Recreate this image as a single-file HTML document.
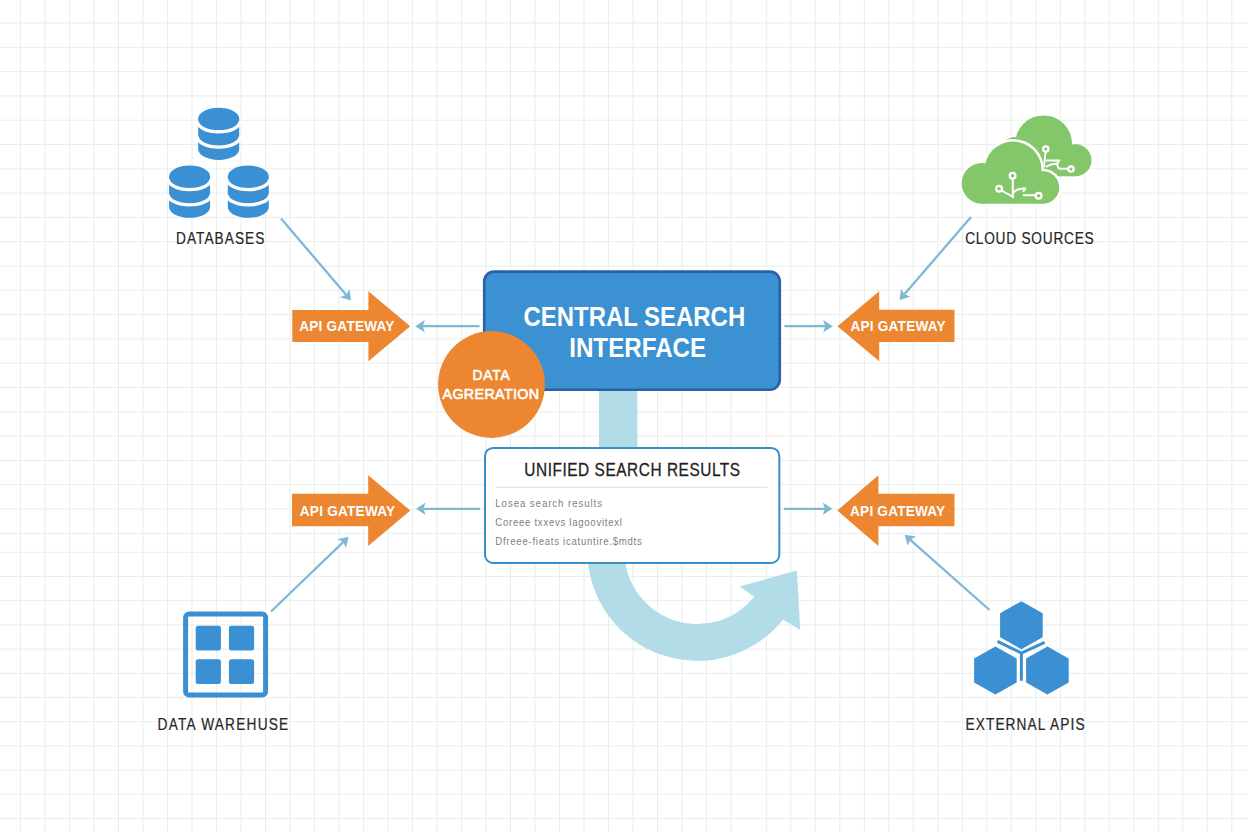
<!DOCTYPE html>
<html><head><meta charset="utf-8"><style>
html,body{margin:0;padding:0;background:#fff;}
svg{display:block;font-family:"Liberation Sans",sans-serif;}
</style></head><body>
<svg width="1248" height="832" viewBox="0 0 1248 832">
<rect width="1248" height="832" fill="#ffffff"/>
<path d="M20.5 0V832M45.0 0V832M69.5 0V832M94.0 0V832M118.5 0V832M143.0 0V832M167.5 0V832M192.0 0V832M216.5 0V832M241.0 0V832M265.5 0V832M290.0 0V832M314.5 0V832M339.0 0V832M363.5 0V832M388.0 0V832M412.5 0V832M437.0 0V832M461.5 0V832M486.0 0V832M510.5 0V832M535.0 0V832M559.5 0V832M584.0 0V832M608.5 0V832M633.0 0V832M657.5 0V832M682.0 0V832M706.5 0V832M731.0 0V832M766.3 0V832M790.8 0V832M815.3 0V832M839.8 0V832M864.3 0V832M888.8 0V832M913.3 0V832M937.8 0V832M962.3 0V832M986.8 0V832M1011.3 0V832M1035.8 0V832M1060.3 0V832M1084.8 0V832M1109.3 0V832M1133.8 0V832M1158.3 0V832M1182.8 0V832M1207.3 0V832M1231.8 0V832M0 23.0H1248M0 47.3H1248M0 71.6H1248M0 95.9H1248M0 120.2H1248M0 144.5H1248M0 168.8H1248M0 193.1H1248M0 217.4H1248M0 241.7H1248M0 266.0H1248M0 290.3H1248M0 314.6H1248M0 338.9H1248M0 363.2H1248M0 387.5H1248M0 411.8H1248M0 436.1H1248M0 460.4H1248M0 484.7H1248M0 509.0H1248M0 533.3H1248M0 552.3H1248M0 576.5H1248M0 600.7H1248M0 624.9H1248M0 649.1H1248M0 673.3H1248M0 697.5H1248M0 721.7H1248M0 745.9H1248M0 770.1H1248M0 794.3H1248M0 818.5H1248" stroke="#e9eded" stroke-width="1" fill="none"/>
<line x1="281" y1="218.5" x2="346.1" y2="294.8" stroke="#7db9d3" stroke-width="2.3"/><path d="M351 300.5L340.1 297.3L346.1 294.8L349.5 289.2Z" fill="#7db9d3"/>
<line x1="971" y1="217" x2="904.4" y2="294.3" stroke="#7db9d3" stroke-width="2.3"/><path d="M899.5 300L901.0 288.8L904.4 294.3L910.4 296.8Z" fill="#7db9d3"/>
<line x1="271" y1="611.5" x2="343.2" y2="542.2" stroke="#7db9d3" stroke-width="2.3"/><path d="M348.6 537L346.0 548.1L343.2 542.2L337.5 539.1Z" fill="#7db9d3"/>
<line x1="989.5" y1="610" x2="910.3" y2="539.8" stroke="#7db9d3" stroke-width="2.3"/><path d="M904.7 534.8L915.9 536.5L910.3 539.8L907.7 545.7Z" fill="#7db9d3"/>
<line x1="479.5" y1="326.2" x2="422.8" y2="326.2" stroke="#7db9d3" stroke-width="2.3"/><path d="M415.3 326.2L424.8 320.0L422.8 326.2L424.8 332.4Z" fill="#7db9d3"/>
<line x1="784.5" y1="326.2" x2="825.2" y2="326.2" stroke="#7db9d3" stroke-width="2.3"/><path d="M832.7 326.2L823.2 332.4L825.2 326.2L823.2 320.0Z" fill="#7db9d3"/>
<line x1="480" y1="508.8" x2="423.5" y2="508.8" stroke="#7db9d3" stroke-width="2.3"/><path d="M416 508.8L425.5 502.6L423.5 508.8L425.5 515.0Z" fill="#7db9d3"/>
<line x1="784" y1="508.8" x2="824.8" y2="508.8" stroke="#7db9d3" stroke-width="2.3"/><path d="M832.3 508.8L822.8 515.0L824.8 508.8L822.8 502.6Z" fill="#7db9d3"/>
<path d="M198.2 118.8 A20.5 11 0 0 1 239.2 118.8 V149.3 A20.5 10.7 0 0 1 198.2 149.3 Z" fill="#3b8fd3"/><path d="M197.2 121.3 A21.5 10.5 0 0 0 240.2 121.3" stroke="#fff" stroke-width="3.4" fill="none"/><path d="M197.2 136.6 A21.5 10.5 0 0 0 240.2 136.6" stroke="#fff" stroke-width="3.4" fill="none"/>
<path d="M169.1 176.6 A20.5 11 0 0 1 210.1 176.6 V207.1 A20.5 10.7 0 0 1 169.1 207.1 Z" fill="#3b8fd3"/><path d="M168.1 179.1 A21.5 10.5 0 0 0 211.1 179.1" stroke="#fff" stroke-width="3.4" fill="none"/><path d="M168.1 194.4 A21.5 10.5 0 0 0 211.1 194.4" stroke="#fff" stroke-width="3.4" fill="none"/>
<path d="M227.8 176.6 A20.5 11 0 0 1 268.8 176.6 V207.1 A20.5 10.7 0 0 1 227.8 207.1 Z" fill="#3b8fd3"/><path d="M226.8 179.1 A21.5 10.5 0 0 0 269.8 179.1" stroke="#fff" stroke-width="3.4" fill="none"/><path d="M226.8 194.4 A21.5 10.5 0 0 0 269.8 194.4" stroke="#fff" stroke-width="3.4" fill="none"/>
<text transform="scale(0.84,1)" x="209.52" y="243.6" font-size="16.3" textLength="105.24" lengthAdjust="spacing" fill="#262626" stroke="#262626" stroke-width="0.2">DATABASES</text>
<text transform="scale(0.84,1)" x="1149.05" y="243.8" font-size="16.3" textLength="152.98" lengthAdjust="spacing" fill="#262626" stroke="#262626" stroke-width="0.2">CLOUD SOURCES</text>
<text transform="scale(0.84,1)" x="187.62" y="729.8" font-size="16.3" textLength="155.48" lengthAdjust="spacing" fill="#262626" stroke="#262626" stroke-width="0.2">DATA WAREHUSE</text>
<text transform="scale(0.84,1)" x="1149.40" y="729.8" font-size="16.3" textLength="141.79" lengthAdjust="spacing" fill="#262626" stroke="#262626" stroke-width="0.2">EXTERNAL APIS</text>
<path d="M292.3 309.9H368.4V291.3L410.2 326.25L368.4 361.2V342.1H292.3Z" fill="#ec8631"/><text transform="scale(0.89,1)" x="336.18" y="331.4" font-size="15.3" textLength="106.97" lengthAdjust="spacing" font-weight="bold" fill="#fff">API GATEWAY</text>
<path d="M954.5 309.7H879.2V291.3L837.5 326.25L879.2 361.2V342.1H954.5Z" fill="#ec8631"/><text transform="scale(0.89,1)" x="955.62" y="331.4" font-size="15.3" textLength="106.85" lengthAdjust="spacing" font-weight="bold" fill="#fff">API GATEWAY</text>
<path d="M292 493.7H368.2V475.2L410.3 510.54999999999995L368.2 545.9V526.3H292Z" fill="#ec8631"/><text transform="scale(0.89,1)" x="336.85" y="516.5" font-size="15.3" textLength="107.08" lengthAdjust="spacing" font-weight="bold" fill="#fff">API GATEWAY</text>
<path d="M954.5 493.7H878.4V475.2L837.3 510.54999999999995L878.4 545.9V526.3H954.5Z" fill="#ec8631"/><text transform="scale(0.89,1)" x="955.17" y="516.5" font-size="15.3" textLength="106.74" lengthAdjust="spacing" font-weight="bold" fill="#fff">API GATEWAY</text>
<rect x="599" y="385" width="38.4" height="70" fill="#b2dce8"/>
<path d="M587.3 540 V550.9 A110.0 110.0 0 0 0 783.0 619.8 L800.2 629.8 L796.9 570.4 L739.6 586.5 L754.3 596.8 A73.2 73.2 0 0 1 624.1 550.9 V540 Z" fill="#b2dce8"/>
<rect x="484.2" y="271.6" width="295.6" height="118.2" rx="10" fill="#3b91d2" stroke="#2a62a3" stroke-width="2.6"/>
<text x="523.5" y="326.4" font-size="26.8" font-weight="bold" fill="#fff" textLength="221.7" lengthAdjust="spacingAndGlyphs">CENTRAL SEARCH</text>
<text x="569.2" y="357.4" font-size="26.8" font-weight="bold" fill="#fff" textLength="137" lengthAdjust="spacingAndGlyphs">INTERFACE</text>
<circle cx="491.5" cy="384.5" r="53.4" fill="#ec8631"/>
<text transform="scale(0.92,1)" x="513.48" y="380.4" font-size="15" textLength="40.65" lengthAdjust="spacing" fill="#fff" stroke="#fff" stroke-width="0.65">DATA</text>
<text transform="scale(0.92,1)" x="480.98" y="399.4" font-size="15.5" textLength="105.00" lengthAdjust="spacing" fill="#fff" stroke="#fff" stroke-width="0.65">AGRERATION</text>
<rect x="485" y="447.9" width="294.3" height="115.1" rx="8" fill="#fff" stroke="#3a8fc9" stroke-width="2"/>
<text transform="scale(0.86,1)" x="609.65" y="475.8" font-size="17.9" textLength="250.93" lengthAdjust="spacing" fill="#222" stroke="#222" stroke-width="0.3">UNIFIED SEARCH RESULTS</text>
<rect x="495.6" y="486.7" width="271.8" height="1.2" fill="#e2e2e2"/>
<text transform="scale(0.86,1)" x="575.93" y="507" font-size="11.2" textLength="124.07" lengthAdjust="spacing" fill="#808080">Losea search results</text>
<text transform="scale(0.86,1)" x="575.93" y="525.6" font-size="11.2" textLength="147.21" lengthAdjust="spacing" fill="#808080">Coreee txxevs lagoovitexl</text>
<text transform="scale(0.86,1)" x="575.93" y="544.9" font-size="11.2" textLength="170.35" lengthAdjust="spacing" fill="#808080">Dfreee-fieats icatuntire.$mdts</text>
<rect x="185.6" y="613.9" width="80" height="81.2" rx="3.5" fill="none" stroke="#3b8fd3" stroke-width="5"/>
<rect x="195.7" y="625.7" width="25.2" height="24.8" rx="2.5" fill="#3b8fd3"/>
<rect x="228.9" y="625.7" width="25.2" height="24.8" rx="2.5" fill="#3b8fd3"/>
<rect x="195.7" y="659.2" width="25.2" height="24.8" rx="2.5" fill="#3b8fd3"/>
<rect x="228.9" y="659.2" width="25.2" height="24.8" rx="2.5" fill="#3b8fd3"/>
<path d="M1021.4 601.2L1042.7 613.2L1042.7 637.2L1021.4 649.2L1000.1 637.2L1000.1 613.2Z" fill="#3b8fd3"/>
<path d="M995.4 646.6L1016.7 658.6L1016.7 682.6L995.4 694.6L974.1 682.6L974.1 658.6Z" fill="#3b8fd3"/>
<path d="M1047.4 646.6L1068.7 658.6L1068.7 682.6L1047.4 694.6L1026.1 682.6L1026.1 658.6Z" fill="#3b8fd3"/>
<path d="M997.5 641.4 L1021.4 653 L1044.7 642.3 M1021.4 653 V680.8" stroke="#3b8fd3" stroke-width="3" fill="none"/>
<g fill="#84c76a"><circle cx="1043.6" cy="143.9" r="28.5"/><circle cx="1075.5" cy="160.3" r="16"/><circle cx="1016" cy="155" r="18"/><rect x="1016" y="150" width="59.5" height="26.3"/></g>
<g fill="#fff"><circle cx="982" cy="183.3" r="22.9"/><circle cx="1013" cy="170" r="31"/><circle cx="1043" cy="187.5" r="18.7"/><rect x="982" y="169.5" width="61" height="36.7"/></g>
<g fill="#84c76a"><circle cx="982" cy="183.3" r="20.4"/><circle cx="1013" cy="170" r="28.5"/><circle cx="1043" cy="187.5" r="16.2"/><rect x="982" y="172" width="61" height="31.7"/></g>
<g stroke="#fff" stroke-width="2" fill="none" stroke-linecap="round" stroke-linejoin="round"><circle cx="1012.6" cy="175.8" r="2.9" stroke-width="2.2"/><circle cx="999.1" cy="188.8" r="2.9" stroke-width="2.2"/><circle cx="1038.6" cy="195.8" r="2.9" stroke-width="2.2"/><path d="M1012.8 178.7 V197.2 M1001.6 190.5 L1013 197 M1013.3 193 Q1015.5 189.2 1023 188.6 L1025.3 188.6 L1023.5 191.2 M1023.6 195.2 H1035.6"/><circle cx="1045.8" cy="149.0" r="2.7" stroke-width="2.2"/><circle cx="1071" cy="169" r="2.7" stroke-width="2.2"/><path d="M1045.6 151.8 L1044 166.5 M1046.8 160.4 H1059.2 L1057.3 163.8 Q1051.5 163.5 1046.5 166.5 M1057.3 163.8 Q1057.3 168.8 1061 168.8 H1068.2"/></g>
</svg>
</body></html>
